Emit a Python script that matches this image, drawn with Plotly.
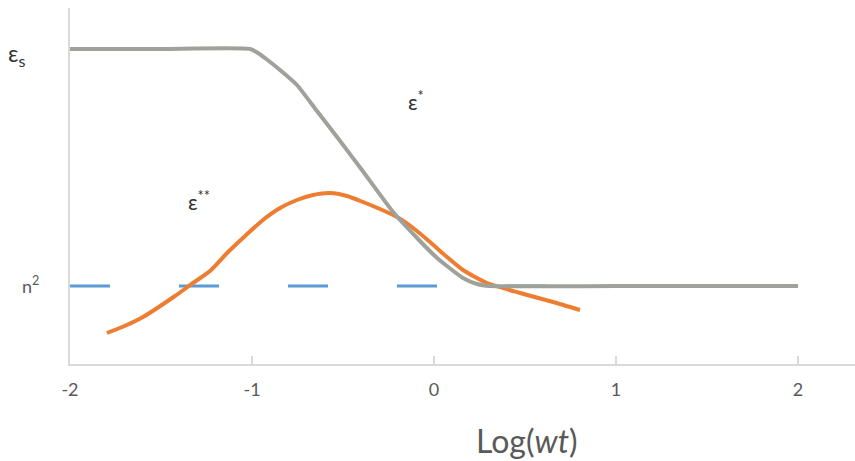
import plotly.graph_objects as go

# Data (schematic units)
eps_s = 31.5
n2 = 7.8

grey_x = [-2, -1.5, -1.011, -0.967, -0.918, -0.846, -0.753, -0.643, -0.516, -0.396, -0.225, -0.093,
          0.005, 0.071, 0.159, 0.236, 0.308, 1.0, 2.0]
grey_y = [31.5, 31.5, 31.5, 31.1, 30.45, 29.4, 27.9, 25.3, 22.3, 19.4, 15.2, 12.6,
          10.8, 9.8, 8.6, 8.0, 7.8, 7.8, 7.8]

orange_x = [-1.797, -1.7, -1.599, -1.423, -1.324, -1.231, -1.137, -1.038, -0.94, -0.846, -0.753, -0.665,
            -0.571, -0.478, -0.39, -0.297, -0.203, -0.115, -0.022, 0.071, 0.159, 0.291, 0.473,
            0.654, 0.802]
orange_y = [3.1, 3.8, 4.7, 6.8, 8.1, 9.3, 11.1, 12.8, 14.4, 15.6, 16.4, 16.9,
            17.1, 16.8, 16.2, 15.5, 14.7, 13.6, 12.2, 10.7, 9.4, 8.1, 7.1,
            6.2, 5.4]

blue_x = [-2, 2]
blue_y = [n2, n2]

tick_vals = [-2, -1, 0, 1, 2]
tick_text = ["-2", "-1", "0", "1", "2"]

fig = go.Figure()
fig.add_trace(go.Scatter(x=blue_x, y=blue_y, mode="lines",
                         line=dict(color="#5B9BD5", width=3, dash="40px,69px"),
                         hoverinfo="skip"))
fig.add_trace(go.Scatter(x=orange_x, y=orange_y, mode="lines",
                         line=dict(color="#ED7D31", width=4, shape="spline", smoothing=0.6),
                         hoverinfo="skip"))
fig.add_trace(go.Scatter(x=grey_x, y=grey_y, mode="lines",
                         line=dict(color="#9EA29A", width=4, shape="spline", smoothing=0.5),
                         hoverinfo="skip"))

font_main = "Lato, Open Sans, sans-serif"

fig.update_layout(
    width=855, height=461,
    margin=dict(l=70, r=0, t=8, b=97),
    paper_bgcolor="white", plot_bgcolor="white",
    showlegend=False,
    font=dict(family=font_main, color="#595959"),
    xaxis=dict(range=[-2, 2.313], tickvals=tick_vals, ticktext=tick_text,
               showline=True, linecolor="#D9D9D9", linewidth=1.5,
               ticks="inside", ticklen=8, tickcolor="#D9D9D9", tickwidth=1.5,
               showgrid=False, zeroline=False,
               tickfont=dict(size=18, color="#595959", family=font_main),
               ticklabelstandoff=9),
    yaxis=dict(range=[0, 35.6], showline=True, linecolor="#D9D9D9", linewidth=1.5,
               showticklabels=False, ticks="", showgrid=False, zeroline=False),
    annotations=[
        dict(text="ε<sub>s</sub>", xref="paper", yref="paper", x=-0.068, y=0.87,
             xanchor="center", yanchor="middle",
             showarrow=False, font=dict(size=23, color="#333333", family=font_main)),
        dict(text="n<sup>2</sup>", xref="paper", yref="paper", x=-0.05, y=0.222,
             xanchor="center", yanchor="middle",
             showarrow=False, font=dict(size=18, color="#595959", family=font_main)),
        dict(text="ε<sup>*</sup>", xref="x", yref="y", x=-0.1, y=26.4,
             xanchor="center", yanchor="middle",
             showarrow=False, font=dict(size=21, color="#333333", family=font_main)),
        dict(text="ε<sup>**</sup>", xref="x", yref="y", x=-1.29, y=16.4,
             xanchor="center", yanchor="middle",
             showarrow=False, font=dict(size=21, color="#333333", family=font_main)),
        dict(text="Log(<i>wt</i>)", xref="paper", yref="paper", x=0.582, y=-0.215,
             xanchor="center", yanchor="middle",
             showarrow=False, font=dict(size=32, color="#595959", family=font_main)),
    ],
)

fig.write_html("out.html")
